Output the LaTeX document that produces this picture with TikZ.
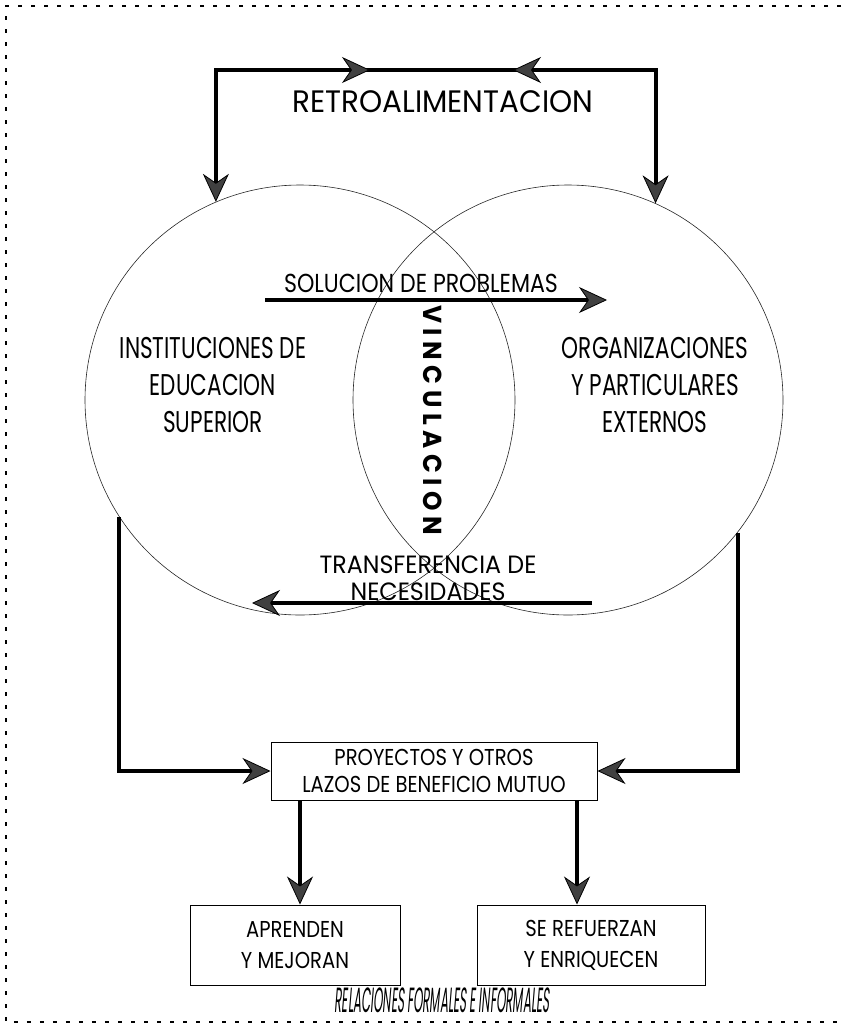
\documentclass[tikz,border=0pt]{standalone}
\usepackage{fontspec}
\setmainfont{Poppins}
\newfontfamily\fw[FakeStretch=0.95]{Poppins}
\newfontfamily\fm[FakeStretch=0.85]{Poppins}
\newfontfamily\fn[FakeStretch=0.72]{Poppins}
\newfontfamily\fx[FakeStretch=0.34,FakeSlant=0.08]{Poppins}
\usetikzlibrary{arrows.meta}
\begin{document}
\begin{tikzpicture}[x=1pt,y=-1pt,
 ring/.style={circle,draw=black!85,line width=0.6pt,minimum size=430pt,inner sep=0pt},
 heavy/.style={line width=4pt,line cap=rect},
 fb/.style={line width=4pt,-{Stealth[length=28pt,width=26pt,inset=9pt,line width=0.8pt,fill=black!75]}},
 lbl/.style={align=center,font=\fn\fontsize{30}{37}\selectfont,inner sep=0pt},
 box/.style={draw,line width=1pt,align=center,inner sep=0pt},
 border/.style={line width=2.2pt,dash pattern=on 4pt off 9pt}
]
\useasboundingbox (0,0) rectangle (841,1028);
\draw[border] (841,6) -- (6,6) -- (6,1022) -- (841,1022);

% circles
\node[ring] (lc) at (300,400) {};
\node[ring] (rc) at (568,400) {};

% labels
\node[lbl] (ies) at (213,385) {INSTITUCIONES DE\\EDUCACION\\SUPERIOR};
\node[lbl] (ope) at (655,385) {ORGANIZACIONES\\Y PARTICULARES\\EXTERNOS};
\node[font=\fw\fontsize{31}{36}\selectfont,inner sep=0pt] (retro) at (443,102) {RETROALIMENTACION};
\node[rotate=-90,inner sep=0pt] (vin) at (433,420) {\hbox to 230pt{\fw\bfseries\fontsize{26}{26}\selectfont V\hfill I\hfill N\hfill C\hfill U\hfill L\hfill A\hfill C\hfill I\hfill O\hfill N}};
\node[font=\fm\fontsize{26}{30}\selectfont,inner sep=0pt] (sol) at (421,283) {SOLUCION DE PROBLEMAS};
\node[align=center,font=\fw\fontsize{25}{27}\selectfont,inner sep=0pt] (tn) at (428,578) {TRANSFERENCIA DE\\NECESIDADES};

% feedback loop
\coordinate (tl) at (lc.113 |- 0,70);
\coordinate (tr) at (rc.66 |- 0,70);
\coordinate (m1) at (370,70);
\coordinate (m2) at (513,70);
\draw[heavy] (tl) -- (tr);
\draw[fb] (tl) -- (m1);
\draw[fb] (tr) -- (m2);
\draw[fb] (tl) -- (lc.113);
\draw[fb] (tr) -- (rc.66);

% exchange arrows
\coordinate (s1) at (265,300);
\coordinate (s2) at (607,300);
\draw[fb] (s1) -- (s2);
\coordinate (t1) at (592,603);
\coordinate (t2) at (252,603);
\draw[fb] (t1) -- (t2);

% boxes
\node[box,minimum width=326pt,minimum height=58pt,font=\fm\fontsize{23}{27}\selectfont] (proj) at (434,771) {PROYECTOS Y OTROS\\LAZOS DE BENEFICIO MUTUO};
\node[box,minimum width=210pt,minimum height=80pt,font=\fm\fontsize{23}{31}\selectfont] (ap) at (295,945) {APRENDEN\\Y MEJORAN};
\node[box,minimum width=228pt,minimum height=80pt,font=\fm\fontsize{23}{31}\selectfont] (rf) at (591,945) {SE REFUERZAN\\Y ENRIQUECEN};

\draw[fb] (lc.213) |- (proj.west);
\draw[fb] (rc.-38) |- (proj.east);
\draw[fb] (proj.south -| 300,0) -- (ap.north -| 300,0);
\draw[fb] (proj.south -| 577,0) -- (rf.north -| 577,0);

\node[font=\fx\fontsize{35}{35}\selectfont,inner sep=0pt] (rel) at (442,1000) {RELACIONES FORMALES E INFORMALES};
\end{tikzpicture}
\end{document}
